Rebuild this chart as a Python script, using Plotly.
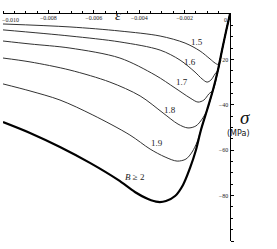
import plotly.graph_objects as go

# strain values (epsilon) and stresses (MPa)
eps_15 = [-0.0100, -0.00705, -0.00485, -0.00308, -0.00198, -0.00132, -0.00088, -0.00066, -0.00053, -0.00044, -0.00035, -0.00018, 0.0]
sig_15 = [-4.4, -5.7, -7.5, -9.7, -12.8, -16.3, -19.8, -21.6, -22.2, -20.3, -15.9, -7.9, 0.0]

eps_16 = [-0.0100, -0.00705, -0.00485, -0.00308, -0.00220, -0.00154, -0.00123, -0.00101, -0.00084, -0.00066, -0.00053, -0.00035, -0.00018, 0.0]
sig_16 = [-7.0, -9.7, -12.3, -15.9, -20.3, -25.6, -28.6, -30.0, -29.1, -26.4, -24.7, -15.9, -7.9, 0.0]

eps_17 = [-0.0100, -0.00881, -0.00705, -0.00485, -0.00330, -0.00242, -0.00176, -0.00141, -0.00115, -0.00093, -0.00075, -0.00053, -0.00035, -0.00018, 0.0]
sig_17 = [-11.9, -13.2, -15.0, -19.4, -26.9, -32.6, -37.0, -38.8, -37.9, -35.2, -33.5, -24.7, -15.9, -7.9, 0.0]

eps_18 = [-0.0100, -0.00881, -0.00705, -0.00529, -0.00396, -0.00295, -0.00229, -0.00185, -0.00150, -0.00123, -0.00101, -0.00075, -0.00053, -0.00035, -0.00018, 0.0]
sig_18 = [-19.4, -21.1, -24.7, -30.0, -36.1, -43.6, -48.5, -50.2, -49.3, -46.3, -42.3, -33.5, -24.7, -15.9, -7.9, 0.0]

eps_19 = [-0.0100, -0.00881, -0.00749, -0.00604, -0.00441, -0.00352, -0.00286, -0.00233, -0.00194, -0.00167, -0.00145, -0.00128, -0.00101, -0.00075, -0.00053, -0.00035, -0.00018, 0.0]
sig_19 = [-30.8, -33.9, -37.9, -44.5, -53.3, -59.5, -63.0, -64.8, -63.9, -60.8, -56.4, -51.1, -42.3, -33.5, -24.7, -15.9, -7.9, 0.0]

eps_2 = [-0.0100, -0.00881, -0.00749, -0.00617, -0.00493, -0.00419, -0.00361, -0.00317, -0.00282, -0.00242, -0.00207, -0.00176, -0.00150, -0.00128, -0.00101, -0.00075, -0.00053, -0.00035, -0.00018, 0.0]
sig_2 = [-47.6, -52.4, -58.6, -65.6, -73.1, -78.4, -81.5, -82.8, -82.4, -80.2, -75.3, -67.8, -59.9, -51.1, -42.3, -33.5, -24.7, -15.9, -7.9, 0.0]

thin_curves = [(eps_15, sig_15), (eps_16, sig_16), (eps_17, sig_17), (eps_18, sig_18), (eps_19, sig_19)]

curve_labels = ["1.5", "1.6", "1.7", "1.8", "1.9", "<i>B</i> ≥ 2"]
label_eps = [-0.00145, -0.00176, -0.00211, -0.00264, -0.00322, -0.00419]
label_sig = [-12.3, -21.1, -30.0, -42.3, -56.8, -71.8]

x_tickvals = [-0.008, -0.006, -0.004, -0.002]
x_ticktext = ["−0.008", "−0.006", "−0.004", "−0.002"]
y_tickvals = [-20, -40, -60, -80, -100]
y_ticktext = ["−20", "−40", "−60", "−80", "−100"]

fig = go.Figure()
for ex, sy in thin_curves:
    fig.add_trace(go.Scatter(x=ex, y=sy, mode="lines",
                             line=dict(color="#333333", width=1, shape="spline", smoothing=0.9),
                             hoverinfo="skip", showlegend=False))
fig.add_trace(go.Scatter(x=eps_2, y=sig_2, mode="lines",
                         line=dict(color="black", width=2.2, shape="spline", smoothing=0.9),
                         hoverinfo="skip", showlegend=False))

serif = "Liberation Serif"
for t, ex, sy in zip(curve_labels, label_eps, label_sig):
    fig.add_annotation(x=ex, y=sy, xref="x", yref="y", text=t, showarrow=False,
                       font=dict(family=serif, size=9, color="#222222"))

# edge tick labels that plotly would hide (they overflow the plot area)
fig.add_annotation(x=-0.010, y=1, xref="x", yref="paper", text="−0.010", showarrow=False,
                   xanchor="left", xshift=-3, yanchor="top", yshift=-1,
                   font=dict(family=serif, size=6, color="#222"))
fig.add_annotation(x=0.0, y=1, xref="x", yref="paper", text="0", showarrow=False,
                   xanchor="right", xshift=-1, yanchor="top", yshift=-1,
                   font=dict(family=serif, size=6, color="#222"))

fig.add_annotation(x=0.507, y=1.04, xref="paper", yref="paper", text="<i>ε</i>",
                   showarrow=False, font=dict(family=serif, size=15, color="#111"))
fig.add_annotation(x=1.096, y=0.542, xref="paper", yref="paper", text="<i>σ</i>",
                   showarrow=False, font=dict(family=serif, size=19, color="#111"))
fig.add_annotation(x=1.096, y=0.472, xref="paper", yref="paper", text="(MPa)",
                   showarrow=False, font=dict(family="DejaVu Sans", size=8, color="#111"))

fig.update_layout(
    width=277, height=249,
    margin=dict(l=3, r=47, t=14, b=8, pad=0),
    paper_bgcolor="white", plot_bgcolor="white",
    xaxis=dict(range=[-0.010, 0.0], side="top", showline=True, linecolor="black", linewidth=1,
               showgrid=False, zeroline=False, ticks="outside", ticklen=3, tickcolor="black",
               tickvals=x_tickvals, ticktext=x_ticktext, ticklabelposition="inside",
               tickfont=dict(family=serif, size=6, color="#222"),
               minor=dict(dtick=0.0005, tick0=0, ticks="outside", ticklen=2, tickcolor="black")),
    yaxis=dict(range=[-100, 0], side="right", showline=True, linecolor="black", linewidth=1,
               showgrid=False, zeroline=False, ticks="outside", ticklen=3, tickcolor="black",
               tickvals=y_tickvals, ticktext=y_ticktext, ticklabelposition="inside",
               tickfont=dict(family=serif, size=6, color="#222"),
               minor=dict(dtick=5, tick0=0, ticks="outside", ticklen=2, tickcolor="black")),
)

fig.write_html("out.html")
